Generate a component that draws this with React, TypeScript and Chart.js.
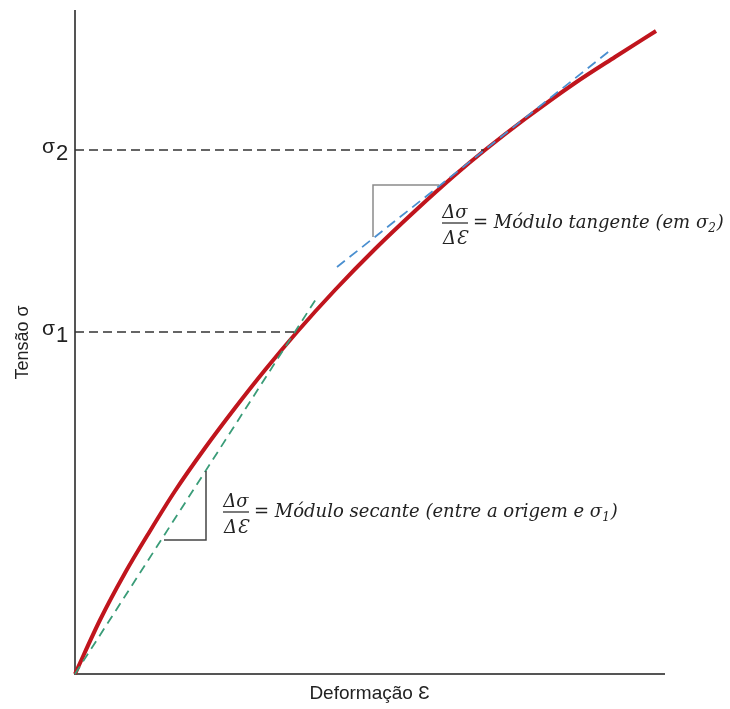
import React, { useEffect, useRef } from "react";
import { Chart, registerables } from "chart.js";

Chart.register(...registerables);

// Stress–strain curve (strain offset, stress offset)
const CURVE_X = [0, 25, 50, 75, 100, 130, 160, 190, 222, 260, 300, 340, 380, 410, 450, 500, 540, 581];
const CURVE_Y = [0, 54, 101, 143, 183, 226, 266, 304, 342, 384, 425, 463, 499, 524, 555, 591, 617, 643];

// Secant modulus line (origin to beyond σ1)
const SECANT_X = [0, 243];
const SECANT_Y = [0, 378];

// Tangent modulus line (tangent near σ2)
const TANGENT_X = [262, 537];
const TANGENT_Y = [407, 625];

// Stress levels σ1, σ2 and where their guide lines meet the curve
const SIGMA_NAMES = ["1", "2"];
const SIGMA_LEVELS = [342, 524];
const SIGMA_REACH = [222, 409];

// Slope triangles
const TAN_TRI_X = [364, 298, 298];
const TAN_TRI_Y = [489, 489, 437];
const SEC_TRI_X = [131, 131, 89];
const SEC_TRI_Y = [203, 134, 134];

const X_MAX = 589;
const Y_MAX = 663;

const TANGENT_TEXT = ["= Módulo tangente (em σ", "2", ")"];
const SECANT_TEXT = ["= Módulo secante (entre a origem e σ", "1", ")"];
// anchor (data coords) of the fraction bar's left end
const TANGENT_NOTE = { x: 367, y: 451 };
const SECANT_NOTE = { x: 148, y: 162 };

const pts = (xs: number[], ys: number[]) => xs.map((x, i) => ({ x, y: ys[i] }));

const MATH_FONT = '"DejaVu Serif", serif';
const SANS = '"Liberation Sans", Arial, sans-serif';

function drawNote(ctx: CanvasRenderingContext2D, bx: number, by: number, parts: string[]) {
  const barW = 26;
  ctx.save();
  ctx.fillStyle = "#222";
  ctx.strokeStyle = "#222";
  ctx.lineWidth = 1.2;
  ctx.beginPath();
  ctx.moveTo(bx, by);
  ctx.lineTo(bx + barW, by);
  ctx.stroke();
  ctx.font = `italic 18px ${MATH_FONT}`;
  ctx.textAlign = "center";
  ctx.textBaseline = "alphabetic";
  ctx.fillText("Δσ", bx + barW / 2, by - 5);
  ctx.fillText("ΔƐ", bx + barW / 2, by + 21);
  ctx.textAlign = "left";
  let cx = bx + barW + 5;
  ctx.fillText(parts[0], cx, by + 5);
  cx += ctx.measureText(parts[0]).width;
  ctx.font = `italic 12px ${MATH_FONT}`;
  ctx.fillText(parts[1], cx, by + 9);
  cx += ctx.measureText(parts[1]).width + 1;
  ctx.font = `italic 18px ${MATH_FONT}`;
  ctx.fillText(parts[2], cx, by + 5);
  ctx.restore();
}

const notesPlugin = {
  id: "notes",
  afterDatasetsDraw(chart: any) {
    const { ctx, scales } = chart;
    const xs = scales.x;
    const ys = scales.y;
    ctx.save();
    ctx.fillStyle = "#222";
    ctx.textAlign = "left";
    ctx.textBaseline = "alphabetic";
    SIGMA_LEVELS.forEach((lvl, i) => {
      const py = ys.getPixelForValue(lvl);
      ctx.font = `21px ${SANS}`;
      ctx.fillText("σ", xs.left - 33, py + 3);
      ctx.font = `22px ${SANS}`;
      ctx.fillText(SIGMA_NAMES[i], xs.left - 19, py + 10);
    });
    ctx.restore();
    drawNote(ctx, xs.getPixelForValue(TANGENT_NOTE.x), ys.getPixelForValue(TANGENT_NOTE.y), TANGENT_TEXT);
    drawNote(ctx, xs.getPixelForValue(SECANT_NOTE.x), ys.getPixelForValue(SECANT_NOTE.y), SECANT_TEXT);
  },
};

export default function App() {
  const ref = useRef<HTMLCanvasElement>(null);
  useEffect(() => {
    document.body.style.margin = "0";
    const lineDs = (data: any[], color: string, width: number, dash: number[] = []) => ({
      data,
      showLine: true,
      borderColor: color,
      borderWidth: width,
      borderDash: dash,
      pointRadius: 0,
      fill: false,
      clip: false as any,
    });
    const datasets: any[] = [
      ...SIGMA_LEVELS.map((lvl, i) => lineDs([{ x: 0, y: lvl }, { x: SIGMA_REACH[i], y: lvl }], "#333", 1.3, [9, 5])),
      lineDs(pts(TAN_TRI_X, TAN_TRI_Y), "#8a8a8a", 1.5),
      lineDs(pts(SEC_TRI_X, SEC_TRI_Y), "#444", 1.5),
      lineDs(pts(SECANT_X, SECANT_Y), "#3a9c78", 1.8, [9, 6]),
      lineDs(pts(TANGENT_X, TANGENT_Y), "#4a8fd0", 1.8, [10, 6]),
      { ...lineDs(pts(CURVE_X, CURVE_Y), "#c0151d", 4), cubicInterpolationMode: "monotone" },
    ];
    const chart = new Chart(ref.current!, {
      type: "scatter",
      data: { datasets },
      plugins: [notesPlugin],
      options: {
        responsive: false,
        animation: false,
        layout: { padding: { top: 11, right: 66, left: 0, bottom: 0 } },
        plugins: { legend: { display: false }, tooltip: { enabled: false } },
        scales: {
          x: {
            type: "linear",
            min: 0,
            max: X_MAX,
            grid: { display: false },
            ticks: { display: false },
            border: { display: true, color: "#555", width: 2 },
            title: { display: true, text: "Deformação Ɛ", color: "#222", font: { family: SANS, size: 19 }, padding: { top: 4, bottom: 4 } },
            afterFit: (s: any) => { s.height = 35; },
          },
          y: {
            type: "linear",
            min: 0,
            max: Y_MAX,
            grid: { display: false },
            ticks: { display: false },
            border: { display: true, color: "#555", width: 2 },
            title: { display: true, text: "Tensão σ", color: "#222", font: { family: SANS, size: 18 }, padding: { top: 12, bottom: 4 } },
            afterFit: (s: any) => { s.width = 75; },
          },
        },
      } as any,
    });
    return () => chart.destroy();
  }, []);
  return (
    <div style={{ width: 730, height: 709, background: "#fff" }}>
      <canvas ref={ref} width={730} height={709} />
    </div>
  );
}
